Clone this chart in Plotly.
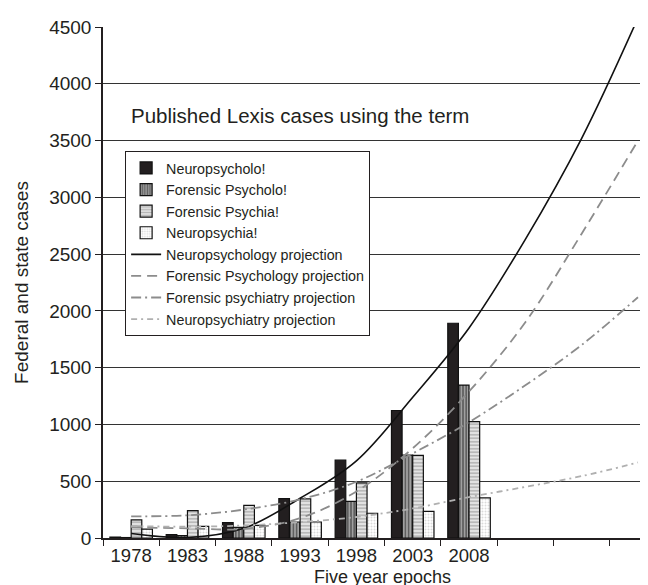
import plotly.graph_objects as go

# ---- data ----
epochs = ["1978", "1983", "1988", "1993", "1998", "2003", "2008"]
proj_epochs = ["1978", "1983", "1988", "1993", "1998", "2003", "2008", "2013", "2018", "2023"]

neuropsychology = [8, 29, 135, 347, 685, 1123, 1891]
forensic_psychology = [4, 21, 94, 141, 323, 730, 1347]
forensic_psychiatry = [159, 241, 288, 344, 485, 727, 1024]
neuropsychiatry = [79, 103, 112, 141, 218, 235, 353]

neuropsychology_proj = [40, 5, 85, 350, 680, 1240, 1850, 2630, 3520, 4580]
forensic_psychology_proj = [95, 85, 80, 175, 410, 790, 1290, 1900, 2680, 3500]
forensic_psychiatry_proj = [191, 200, 250, 340, 495, 745, 1020, 1345, 1700, 2120]
neuropsychiatry_proj = [105, 100, 110, 140, 185, 260, 360, 450, 545, 665]

y_ticks = [0, 500, 1000, 1500, 2000, 2500, 3000, 3500, 4000, 4500]

FONT = "Liberation Sans, Arial, sans-serif"
TXT = "#231f20"

fig = go.Figure()

fig.add_trace(go.Bar(
    name="Neuropsycholo!", x=epochs, y=neuropsychology,
    marker=dict(color="#231f20", line=dict(color="#111", width=1.2)),
))
fig.add_trace(go.Bar(
    name="Forensic Psycholo!", x=epochs, y=forensic_psychology,
    marker=dict(color="#8f8f8f", line=dict(color="#111", width=1.2),
                pattern=dict(shape="|", fgcolor="#1e1e1e", bgcolor="#a0a0a0",
                             size=3.2, solidity=0.5)),
))
fig.add_trace(go.Bar(
    name="Forensic Psychia!", x=epochs, y=forensic_psychiatry,
    marker=dict(color="#dddddd", line=dict(color="#111", width=1.2),
                pattern=dict(shape="-", fgcolor="#858585", bgcolor="#e4e4e4",
                             size=3.5, solidity=0.45)),
))
fig.add_trace(go.Bar(
    name="Neuropsychia!", x=epochs, y=neuropsychiatry,
    marker=dict(color="#f2f2f2", line=dict(color="#111", width=1.2),
                pattern=dict(shape=".", fgcolor="#b5b5b5", bgcolor="#ffffff",
                             size=3, solidity=0.35)),
))

fig.add_trace(go.Scatter(
    name="Neuropsychology projection", x=proj_epochs, y=neuropsychology_proj,
    mode="lines", line=dict(color="#111", width=1.6, shape="spline", smoothing=1.0),
))
fig.add_trace(go.Scatter(
    name="Forensic Psychology projection", x=proj_epochs, y=forensic_psychology_proj,
    mode="lines", line=dict(color="#8c8c8c", width=1.8, dash="10px,6px", shape="spline", smoothing=1.0),
))
fig.add_trace(go.Scatter(
    name="Forensic psychiatry projection", x=proj_epochs, y=forensic_psychiatry_proj,
    mode="lines", line=dict(color="#8c8c8c", width=1.8, dash="10px,4px,2px,4px", shape="spline", smoothing=1.0),
))
fig.add_trace(go.Scatter(
    name="Neuropsychiatry projection", x=proj_epochs, y=neuropsychiatry_proj,
    mode="lines", line=dict(color="#b0b0b0", width=1.8, dash="6px,4px,2px,4px", shape="spline", smoothing=1.0),
))

fig.update_layout(
    width=648, height=585,
    margin=dict(l=95, r=0, t=19, b=55),
    paper_bgcolor="white", plot_bgcolor="white",
    font=dict(family=FONT, color=TXT, size=19),
    barmode="group", bargap=0.245, bargroupgap=0,
    showlegend=True,
    legend=dict(
        x=0.04, y=0.757, xanchor="left", yanchor="top",
        bgcolor="white", bordercolor="#231f20", borderwidth=1,
        font=dict(family=FONT, size=14.3, color=TXT),
        tracegroupgap=0, itemwidth=30,
    ),
    annotations=[
        dict(
            text="Five year epochs",
            xref="paper", yref="paper", x=0.506, y=-0.0765,
            xanchor="center", yanchor="middle", showarrow=False,
            font=dict(family=FONT, size=18, color=TXT),
        ),
        dict(
            text="Published Lexis cases using the term",
            xref="paper", yref="paper", x=0.047, y=0.826,
            xanchor="left", yanchor="middle", showarrow=False,
            font=dict(family=FONT, size=20.5, color=TXT),
        ),
    ],
)

fig.update_xaxes(
    type="category",
    categoryorder="array", categoryarray=proj_epochs,
    range=[-0.5, 9.32], automargin=False,
    tickson="boundaries", ticks="outside", ticklen=6, tickcolor="#231f20", tickwidth=1.2,
    labelalias={"2013": " ", "2018": " ", "2023": " "},
    showline=True, linecolor="#231f20", linewidth=1.5,
    showgrid=False, zeroline=False,
    tickfont=dict(family=FONT, size=18.5, color=TXT),
)
fig.update_yaxes(
    range=[0, 4500], tickvals=y_ticks, automargin=False,
    ticks="outside", ticklen=6, tickcolor="#231f20", tickwidth=1.2,
    showline=True, linecolor="#231f20", linewidth=1.5,
    showgrid=True, gridcolor="#333333", gridwidth=1.2,
    zeroline=False,
    tickfont=dict(family=FONT, size=19, color=TXT),
    title=dict(text="Federal and state cases", font=dict(family=FONT, size=19, color=TXT), standoff=16),
)

fig.write_html("out.html")
